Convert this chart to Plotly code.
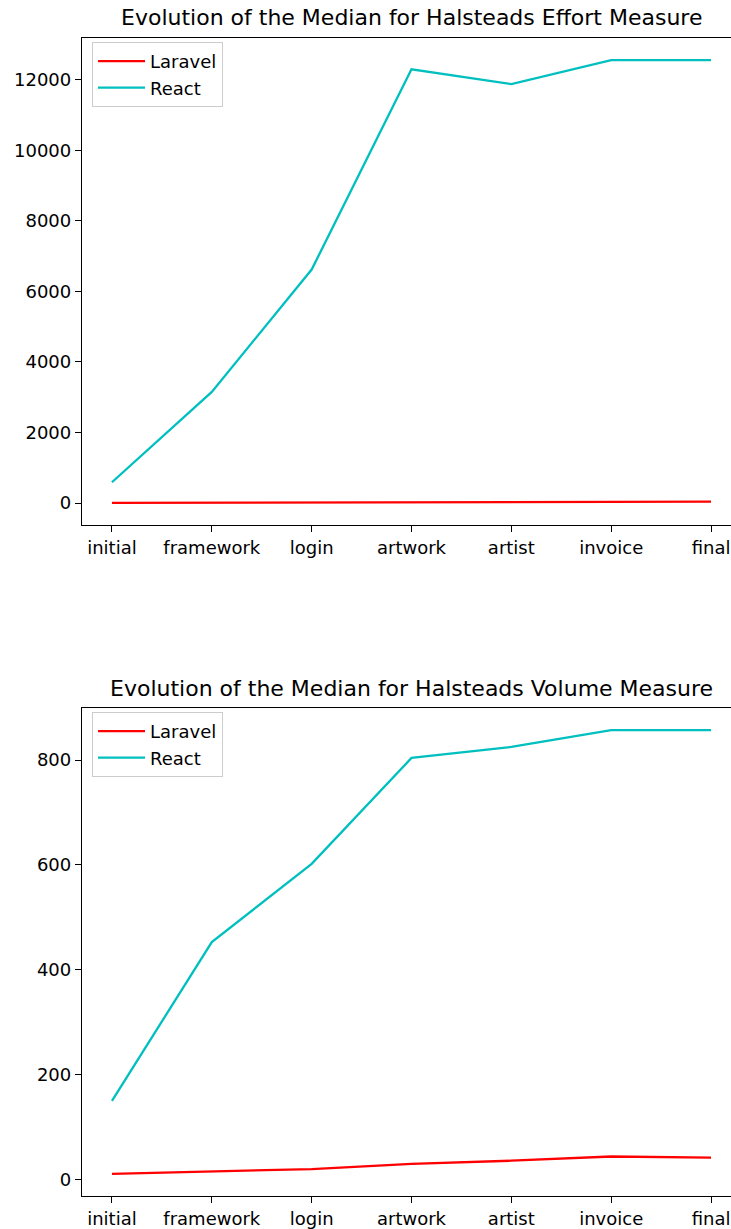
import plotly.graph_objects as go

stages = ["initial", "framework", "login", "artwork", "artist", "invoice", "final"]

effort_laravel = [5, 8, 12, 22, 30, 35, 38]
effort_react = [590, 3150, 6620, 12300, 11880, 12560, 12560]

volume_laravel = [11, 16, 20, 30, 36, 44, 42]
volume_react = [150, 453, 602, 804, 825, 857, 857]

W, H = 731, 1229
L = 82
FONT = "DejaVu Sans"
RED = "#ff0000"
CYAN = "#00bfbf"


def py(px):
    return 1 - px / H


def pxx(px):
    return (px - L) / (W - L)


def auto_range(*series):
    vals = [v for s in series for v in s]
    lo, hi = min(vals), max(vals)
    m = 0.05 * (hi - lo)
    return [lo - m, hi + m]


fig = go.Figure()
idx = list(range(len(stages)))

fig.add_trace(go.Scatter(x=idx, y=effort_laravel, mode="lines", name="Laravel",
                         line=dict(color=RED, width=2.3), xaxis="x", yaxis="y", legend="legend"))
fig.add_trace(go.Scatter(x=idx, y=effort_react, mode="lines", name="React",
                         line=dict(color=CYAN, width=2.3), xaxis="x", yaxis="y", legend="legend"))
fig.add_trace(go.Scatter(x=idx, y=volume_laravel, mode="lines", name="Laravel",
                         line=dict(color=RED, width=2.3), xaxis="x2", yaxis="y2", legend="legend2"))
fig.add_trace(go.Scatter(x=idx, y=volume_react, mode="lines", name="React",
                         line=dict(color=CYAN, width=2.3), xaxis="x2", yaxis="y2", legend="legend2"))

xcommon = dict(
    range=[-0.3, 6.2], tickmode="array", tickvals=idx, ticktext=stages,
    showgrid=False, zeroline=False, showline=True, linecolor="black", linewidth=1.3,
    mirror=True, ticks="outside", ticklen=6, tickcolor="black", tickwidth=1,
    tickfont=dict(family=FONT, size=18, color="black"), domain=[0, 1],
)
ycommon = dict(
    showgrid=False, zeroline=False, showline=True, linecolor="black", linewidth=1.3,
    ticks="outside", ticklen=6, tickcolor="black", tickwidth=1, tickformat="d",
    tickfont=dict(family=FONT, size=18, color="black"),
)

legend_style = dict(xanchor="left", yanchor="top", itemwidth=47,
                    bordercolor="#cccccc", borderwidth=1, bgcolor="rgba(255,255,255,0.8)",
                    font=dict(family=FONT, size=18, color="black"), tracegroupgap=0)

fig.update_layout(
    width=W, height=H,
    margin=dict(l=L, r=0, t=0, b=0),
    paper_bgcolor="white", plot_bgcolor="white",
    font=dict(family=FONT, color="black"),
    xaxis=dict(**xcommon, anchor="y"),
    yaxis=dict(**ycommon, anchor="x", domain=[py(525), py(38)],
               range=auto_range(effort_laravel, effort_react),
               tickvals=[0, 2000, 4000, 6000, 8000, 10000, 12000]),
    xaxis2=dict(**xcommon, anchor="y2"),
    yaxis2=dict(**ycommon, anchor="x2", domain=[py(1196), py(708)],
                range=auto_range(volume_laravel, volume_react),
                tickvals=[0, 200, 400, 600, 800]),
    legend=dict(x=pxx(92), y=py(42), **legend_style),
    legend2=dict(x=pxx(92), y=py(712), **legend_style),
    showlegend=True,
    annotations=[
        dict(text="Evolution of the Median for Halsteads Effort Measure",
             xref="paper", yref="paper", x=pxx(411.5), y=py(17),
             xanchor="center", yanchor="middle", showarrow=False,
             font=dict(family=FONT, size=22, color="black")),
        dict(text="Evolution of the Median for Halsteads Volume Measure",
             xref="paper", yref="paper", x=pxx(411.5), y=py(688),
             xanchor="center", yanchor="middle", showarrow=False,
             font=dict(family=FONT, size=22, color="black")),
    ],
)

fig.write_html(
    "out.html",
    config={"displayModeBar": False},
    post_script="document.body.style.margin='0';document.body.style.overflow='hidden';",
)
